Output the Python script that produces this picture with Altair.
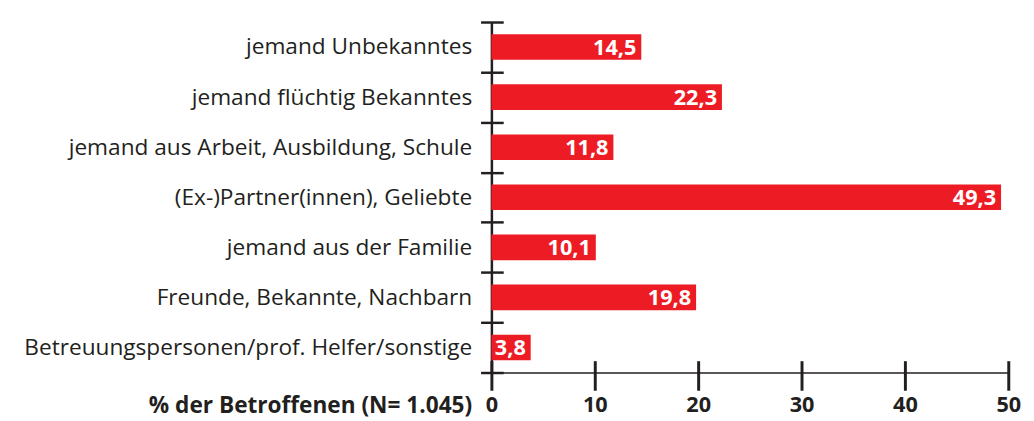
import altair as alt
import pandas as pd

categories = [
    "jemand Unbekanntes",
    "jemand flüchtig Bekanntes",
    "jemand aus Arbeit, Ausbildung, Schule",
    "(Ex-)Partner(innen), Geliebte",
    "jemand aus der Familie",
    "Freunde, Bekannte, Nachbarn",
    "Betreuungspersonen/prof. Helfer/sonstige",
]
values = [14.5, 22.3, 11.8, 49.3, 10.1, 19.8, 3.8]
x_ticks = [0, 10, 20, 30, 40, 50]

df = pd.DataFrame({
    "cat": categories,
    "val": values,
    "lbl": [f"{v:.1f}".replace(".", ",") for v in values],
})

FONT = "Open Sans"
DARK = "#231f20"
RED = "#ED1C24"

x_scale = alt.Scale(domain=[0, 50], nice=False, zero=True)
y_scale = alt.Scale(domain=categories, paddingInner=0, paddingOuter=0)

bars = alt.Chart(df).mark_bar(color=RED, size=26).encode(
    x=alt.X("val:Q", scale=x_scale,
            axis=alt.Axis(values=x_ticks, orient="bottom", title="% der Betroffenen (N= 1.045)",
                          titleFont=FONT, titleFontSize=23, titleFontWeight="bold", titleColor=DARK,
                          titleX=-20, titleY=23, titleAlign="right", titleBaseline="top", titleAngle=0,
                          labelFont=FONT, labelFontSize=22, labelFontWeight="bold", labelColor=DARK,
                          labelPadding=5, tickSize=18, tickWidth=3, tickColor=DARK,
                          domainColor=DARK, domainWidth=1.5, grid=False, labelFlush=False)),
    y=alt.Y("cat:N", scale=y_scale, sort=categories,
            axis=alt.Axis(orient="left", title=None, tickBand="extent", tickSize=11, tickWidth=2.5,
                          tickColor=DARK, domainColor=DARK, domainWidth=2.5,
                          labelFont=FONT, labelFontSize=23, labelColor=DARK, labelPadding=9,
                          labelLimit=700)),
)

text = alt.Chart(df).mark_text(align="right", baseline="middle", dx=-5, dy=1, color="white",
                               font=FONT, fontSize=22, fontWeight="bold").encode(
    x=alt.X("val:Q", scale=x_scale,
            axis=alt.Axis(values=x_ticks, orient="bottom", title=None, labels=False, domain=False,
                          offset=-12, tickSize=12, tickWidth=3, tickColor=DARK, grid=False, zindex=1)),
    y=alt.Y("cat:N", scale=y_scale, sort=categories,
            axis=alt.Axis(orient="left", title=None, labels=False, domain=False, offset=-12,
                          tickBand="extent", tickSize=12, tickWidth=2.5, tickColor=DARK, zindex=1)),
    text="lbl:N",
)

chart = alt.layer(bars, text).resolve_axis(x="independent", y="independent").properties(
    width=525, height=356,
    padding={"top": 0, "left": 15, "right": 5, "bottom": 0},
).configure(background="white").configure_view(stroke=None)

chart.save("out.html", embed_options={"renderer": "svg", "actions": False})
